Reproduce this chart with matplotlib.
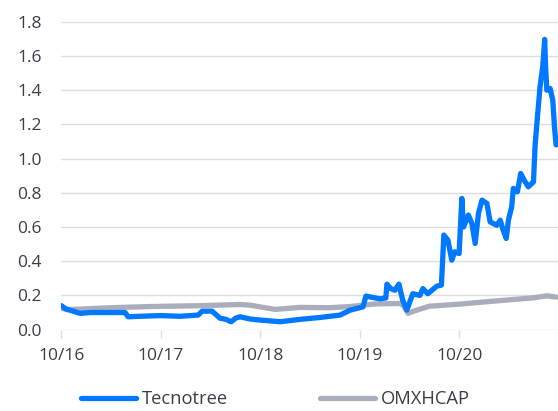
import pandas as pd
import matplotlib
matplotlib.use('Agg')
import matplotlib.pyplot as plt
import matplotlib.dates as mdates

# Tecnotree (kurssi, EUR)
TECNO_DATES = [
    '2016-10-01', '2016-10-18', '2016-11-09', '2016-12-09', '2017-01-14',
    '2017-03-29', '2017-05-23', '2017-06-03', '2017-07-17', '2017-09-29',
    '2017-12-11', '2018-02-15', '2018-03-02', '2018-04-07', '2018-05-06',
    '2018-05-28', '2018-06-16', '2018-07-04', '2018-07-19', '2018-08-25',
    '2018-09-30', '2018-12-13', '2019-02-24', '2019-05-09', '2019-07-21',
    '2019-08-27', '2019-10-13', '2019-10-24', '2019-12-14', '2020-01-05',
    '2020-01-09', '2020-01-23', '2020-02-07', '2020-02-22', '2020-03-07',
    '2020-03-22', '2020-04-13', '2020-05-09', '2020-05-20', '2020-06-07',
    '2020-07-10', '2020-07-27', '2020-08-05', '2020-08-20', '2020-09-03',
    '2020-09-14', '2020-09-30', '2020-10-10', '2020-10-16', '2020-11-03',
    '2020-11-16', '2020-11-28', '2020-12-10', '2020-12-23', '2021-01-10',
    '2021-01-22', '2021-02-15', '2021-02-28', '2021-03-09', '2021-03-22',
    '2021-03-30', '2021-04-11', '2021-04-17', '2021-05-02', '2021-05-14',
    '2021-05-27', '2021-06-11', '2021-06-30', '2021-07-06', '2021-07-12',
    '2021-07-24', '2021-08-03', '2021-08-10', '2021-08-14', '2021-08-18',
    '2021-08-30', '2021-09-09', '2021-09-15', '2021-09-21',
]
TECNO_VALUES = [
    0.14, 0.12, 0.11, 0.095, 0.10,
    0.10, 0.10, 0.075, 0.078, 0.082,
    0.078, 0.085, 0.108, 0.108, 0.067,
    0.060, 0.046, 0.068, 0.075, 0.062,
    0.056, 0.046, 0.060, 0.071, 0.085,
    0.114, 0.133, 0.196, 0.180, 0.185,
    0.266, 0.24, 0.23, 0.266, 0.172,
    0.114, 0.21, 0.20, 0.24, 0.21,
    0.254, 0.26, 0.553, 0.523, 0.406,
    0.455, 0.445, 0.767, 0.60, 0.67,
    0.62, 0.504, 0.68, 0.757, 0.738,
    0.63, 0.61, 0.64, 0.59, 0.533,
    0.64, 0.718, 0.826, 0.806, 0.913,
    0.874, 0.835, 0.864, 1.079, 1.196,
    1.42, 1.537, 1.697, 1.518, 1.40,
    1.41, 1.34, 1.186, 1.08,
]

# OMXHCAP (skaalattu samaan lähtötasoon)
OMX_DATES = [
    '2016-10-01', '2016-11-02', '2016-12-09', '2017-03-29', '2017-08-26',
    '2018-02-22', '2018-07-19', '2018-08-25', '2018-11-25', '2019-02-24',
    '2019-06-13', '2019-08-27', '2019-11-25', '2020-02-25', '2020-03-10',
    '2020-03-27', '2020-04-20', '2020-06-13', '2020-10-01', '2021-02-15',
    '2021-06-30', '2021-08-19', '2021-09-21',
]
OMX_VALUES = [
    0.124, 0.118, 0.12, 0.128, 0.135,
    0.14, 0.147, 0.143, 0.118, 0.13,
    0.128, 0.135, 0.15, 0.153, 0.14,
    0.095, 0.11, 0.137, 0.149, 0.168,
    0.186, 0.198, 0.19,
]

X_TICKS = ['2016-10-01', '2017-10-01', '2018-10-01', '2019-10-01', '2020-10-01']
Y_TICKS = [0.0, 0.2, 0.4, 0.6, 0.8, 1.0, 1.2, 1.4, 1.6, 1.8]

BLUE = '#0078ff'
GREY = '#aaadbb'
TEXT = '#3b3d4a'
GRID = '#dddde5'


def main():
    plt.rcParams['font.family'] = ['Open Sans', 'DejaVu Sans']
    fig = plt.figure(figsize=(5.58, 4.11), dpi=100)
    ax = fig.add_axes([0.110, 0.198, 0.890, 0.749])

    ax.plot(pd.to_datetime(OMX_DATES), OMX_VALUES, color=GREY, lw=3.8,
            solid_capstyle='round', solid_joinstyle='round', label='OMXHCAP', zorder=3)
    ax.plot(pd.to_datetime(TECNO_DATES), TECNO_VALUES, color=BLUE, lw=3.8,
            solid_capstyle='round', solid_joinstyle='round', label='Tecnotree', zorder=4)

    ax.set_xlim(pd.Timestamp('2016-10-01'), pd.Timestamp('2021-09-28'))
    ax.set_ylim(0, 1.8)
    ax.set_yticks(Y_TICKS)
    ax.set_yticklabels(['{:.1f}'.format(v) for v in Y_TICKS])
    ax.set_xticks(pd.to_datetime(X_TICKS))
    ax.xaxis.set_major_formatter(mdates.DateFormatter('%m/%y'))

    ax.grid(axis='y', color=GRID, lw=1.0, zorder=0)
    ax.set_axisbelow(True)
    for side in ['top', 'right', 'left', 'bottom']:
        ax.spines[side].set_visible(False)
    ax.tick_params(axis='y', length=0, pad=14, labelsize=12.5, labelcolor=TEXT)
    ax.tick_params(axis='x', length=6, width=1, color=GRID, pad=7,
                   labelsize=12.5, labelcolor=TEXT)

    # Legenda kuvan alareunaan
    handles, labels = ax.get_legend_handles_labels()
    fig.legend(handles[::-1], labels[::-1], loc='center left',
               bbox_to_anchor=(81 / 558, 1 - 399 / 411), ncol=2, frameon=False,
               fontsize=13.2, handlelength=3.0, handletextpad=0.32,
               columnspacing=5.0, borderpad=0, borderaxespad=0,
               labelcolor=TEXT)

    fig.savefig('out.png', dpi=100)


if __name__ == '__main__':
    main()
